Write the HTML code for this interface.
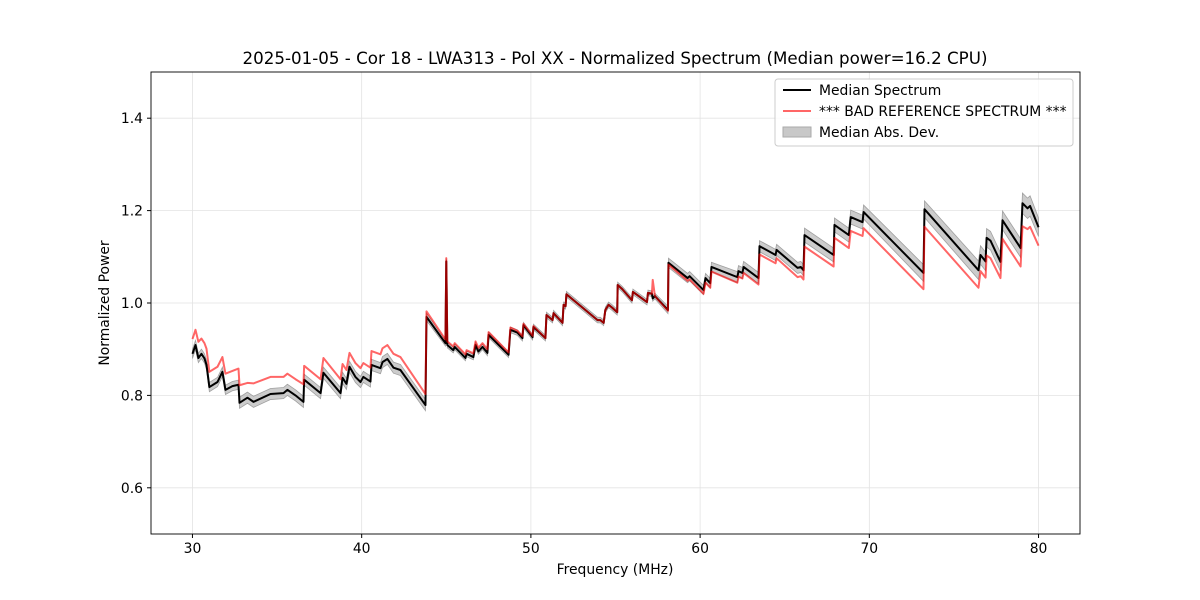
<!DOCTYPE html>
<html><head><meta charset="utf-8"><style>
html,body{margin:0;padding:0;background:#fff;}
svg{display:block;font-family:"DejaVu Sans","Liberation Sans",sans-serif;}
</style></head><body>
<svg id="chart" width="1200" height="600" viewBox="0 0 1200 600" xmlns="http://www.w3.org/2000/svg">
<rect width="1200" height="600" fill="#fff"/>
<g id="grid"></g>
<g id="marks"></g>
<rect x="151" y="72" width="929" height="462" fill="none" stroke="#000" stroke-width="0.9"/>
<g id="ticks"></g>
<text x="615" y="64" text-anchor="middle" font-size="16.7">2025-01-05 - Cor 18 - LWA313 - Pol XX - Normalized Spectrum (Median power=16.2 CPU)</text>
<text x="615" y="574" text-anchor="middle" font-size="13.9">Frequency (MHz)</text>
<text transform="translate(109,303) rotate(-90)" text-anchor="middle" font-size="13.9">Normalized Power</text>
<g>
<rect x="775" y="79" width="298" height="67" rx="3" fill="#fff" fill-opacity="0.8" stroke="#ccc"/>
<g><line x1="783" y1="90" x2="811" y2="90" stroke="#000" stroke-width="2"/><text x="819" y="95" font-size="13.9">Median Spectrum</text></g>
<g><line x1="783" y1="111" x2="811" y2="111" stroke="#ff0000" stroke-opacity="0.6" stroke-width="2"/><text x="819" y="116" font-size="13.9">*** BAD REFERENCE SPECTRUM ***</text></g>
<g><rect x="783" y="127" width="28" height="10" fill="#c8c8c8" stroke="#aaa"/><text x="819" y="137" font-size="13.9">Median Abs. Dev.</text></g>
</g>
</svg>
<script>
const freq=[30.0,30.18,30.35,30.53,30.71,30.83,31.0,31.48,31.77,31.95,32.36,32.72,32.78,33.25,33.61,34.61,35.38,35.61,36.09,36.56,36.6,37.57,37.74,38.75,38.87,39.1,39.28,39.63,39.93,40.1,40.52,40.58,41.11,41.23,41.52,41.88,42.29,43.77,43.83,44.95,45.0,45.06,45.41,45.5,46.13,46.2,46.6,46.73,46.9,47.14,47.43,47.5,48.68,48.79,49.2,49.5,49.56,50.1,50.15,50.86,50.92,51.28,51.34,51.87,51.93,52.05,52.1,53.94,54.1,54.3,54.4,54.59,54.8,55.1,55.13,55.4,55.97,56.03,56.86,56.92,57.15,57.2,57.33,58.1,58.13,59.26,59.38,60.2,60.32,60.6,60.67,62.2,62.27,62.5,62.57,63.45,63.51,64.46,64.52,65.76,65.95,66.11,66.17,67.89,67.94,68.79,68.9,69.6,69.66,73.2,73.26,76.45,76.57,76.87,76.93,77.16,77.75,77.87,78.94,79.05,79.35,79.5,80.0];
const median=[0.89,0.909,0.881,0.89,0.88,0.866,0.818,0.829,0.851,0.812,0.82,0.823,0.784,0.795,0.786,0.803,0.805,0.812,0.8,0.786,0.834,0.805,0.849,0.805,0.838,0.825,0.862,0.84,0.829,0.84,0.83,0.866,0.859,0.872,0.879,0.86,0.855,0.779,0.97,0.913,1.09,0.909,0.898,0.905,0.881,0.89,0.883,0.909,0.895,0.905,0.892,0.931,0.888,0.942,0.936,0.924,0.952,0.926,0.948,0.924,0.974,0.963,0.978,0.957,0.996,0.993,1.019,0.963,0.963,0.957,0.985,0.996,0.99,0.98,1.039,1.03,1.006,1.024,1.002,1.022,1.02,1.01,1.015,0.985,1.087,1.054,1.058,1.028,1.054,1.043,1.078,1.056,1.069,1.065,1.078,1.054,1.123,1.104,1.115,1.076,1.078,1.071,1.147,1.104,1.169,1.147,1.186,1.175,1.197,1.065,1.203,1.071,1.104,1.09,1.141,1.135,1.089,1.179,1.119,1.216,1.205,1.21,1.164];
const refDelta=[0.032,0.033,0.035,0.033,0.033,0.035,0.033,0.033,0.032,0.035,0.033,0.035,0.038,0.032,0.04,0.037,0.035,0.035,0.035,0.038,0.03,0.03,0.032,0.03,0.03,0.03,0.03,0.03,0.03,0.03,0.03,0.03,0.03,0.03,0.03,0.03,0.028,0.024,0.012,0.008,0.007,0.008,0.008,0.008,0.008,0.008,0.008,0.008,0.008,0.008,0.008,0.006,0.005,0.005,0.004,0.004,0.003,0.003,0.002,0,0,0,0,0,0,0,0,0,0,0,0,0,0,0,0,0,0,0,0,0,0,0.04,0,-0.002,-0.004,-0.006,-0.007,-0.008,-0.01,-0.01,-0.01,-0.012,-0.012,-0.012,-0.013,-0.014,-0.018,-0.018,-0.018,-0.02,-0.02,-0.02,-0.025,-0.025,-0.028,-0.028,-0.03,-0.03,-0.035,-0.035,-0.038,-0.038,-0.035,-0.035,-0.038,-0.038,-0.035,-0.04,-0.04,-0.05,-0.045,-0.045,-0.04];
const mad=[0.01,0.01,0.01,0.01,0.01,0.01,0.01,0.01,0.01,0.01,0.01,0.01,0.012,0.012,0.012,0.012,0.012,0.012,0.012,0.012,0.012,0.012,0.012,0.012,0.012,0.012,0.012,0.012,0.012,0.012,0.012,0.012,0.012,0.012,0.012,0.012,0.012,0.012,0.008,0.006,0.006,0.006,0.006,0.006,0.006,0.006,0.006,0.006,0.006,0.006,0.006,0.006,0.006,0.006,0.006,0.006,0.006,0.006,0.006,0.006,0.006,0.006,0.006,0.006,0.006,0.006,0.006,0.006,0.006,0.006,0.006,0.006,0.006,0.006,0.006,0.006,0.006,0.006,0.006,0.006,0.006,0.006,0.006,0.008,0.01,0.01,0.01,0.01,0.01,0.01,0.01,0.012,0.012,0.012,0.012,0.012,0.012,0.012,0.012,0.012,0.012,0.012,0.015,0.015,0.015,0.015,0.015,0.015,0.015,0.018,0.018,0.02,0.02,0.02,0.02,0.02,0.02,0.02,0.02,0.022,0.022,0.022,0.02];
const xTicks=[30,40,50,60,70,80];
const yTicks=[0.6,0.8,1.0,1.2,1.4];
const yTickLabels=["0.6","0.8","1.0","1.2","1.4"];

const NS="http://www.w3.org/2000/svg";
const X0=151,X1=1080,Y0=72,Y1=534,XMIN=27.55,XMAX=82.45,YMIN=0.5,YMAX=1.5;
function xs(v){return X0+(v-XMIN)/(XMAX-XMIN)*(X1-X0);}
function ys(v){return Y1-(v-YMIN)/(YMAX-YMIN)*(Y1-Y0);}
function mk(tag,attrs,parent){const e=document.createElementNS(NS,tag);for(const k in attrs)e.setAttribute(k,attrs[k]);parent.appendChild(e);return e;}
const grid=document.getElementById('grid'),ticks=document.getElementById('ticks'),marks=document.getElementById('marks');
xTicks.forEach((t,i)=>{
  const g=mk('line',{x1:xs(t),x2:xs(t),y1:Y0,y2:Y1,stroke:'#e3e3e3','stroke-width':0.8},grid);
  
  
  const tk=mk('line',{x1:xs(t),x2:xs(t),y1:Y1,y2:Y1+4,stroke:'#000'},ticks);
  
  
  const tl=mk('text',{x:xs(t),y:Y1+19,'text-anchor':'middle','font-size':13.9},ticks);
  
  
  tl.textContent=String(t);
});
yTicks.forEach((t,i)=>{
  const g=mk('line',{x1:X0,x2:X1,y1:ys(t),y2:ys(t),stroke:'#e3e3e3','stroke-width':0.8},grid);
  
  
  const tk=mk('line',{x1:X0-4,x2:X0,y1:ys(t),y2:ys(t),stroke:'#000'},ticks);
  
  
  const tl=mk('text',{x:X0-8,y:ys(t)+5,'text-anchor':'end','font-size':13.9},ticks);
  
  
  tl.textContent=yTickLabels[i];
});
let up=[],dn=[];
for(let i=0;i<freq.length;i++){up.push(xs(freq[i])+','+ys(median[i]+mad[i]));dn.unshift(xs(freq[i])+','+ys(median[i]-mad[i]));}
const band=mk('polygon',{points:up.concat(dn).join(' '),fill:'#b0b0b0','fill-opacity':0.65,stroke:'#a0a0a0','stroke-width':0.8},marks);


const medPts=freq.map((f,i)=>xs(f)+','+ys(median[i])).join(' ');
const med=mk('polyline',{points:medPts,fill:'none',stroke:'#000','stroke-width':2,'stroke-linejoin':'round'},marks);


const refPts=freq.map((f,i)=>xs(f)+','+ys(median[i]+refDelta[i])).join(' ');
const ref=mk('polyline',{points:refPts,fill:'none',stroke:'#ff0000','stroke-opacity':0.6,'stroke-width':2,'stroke-linejoin':'round'},marks);


</script>
</body></html>
